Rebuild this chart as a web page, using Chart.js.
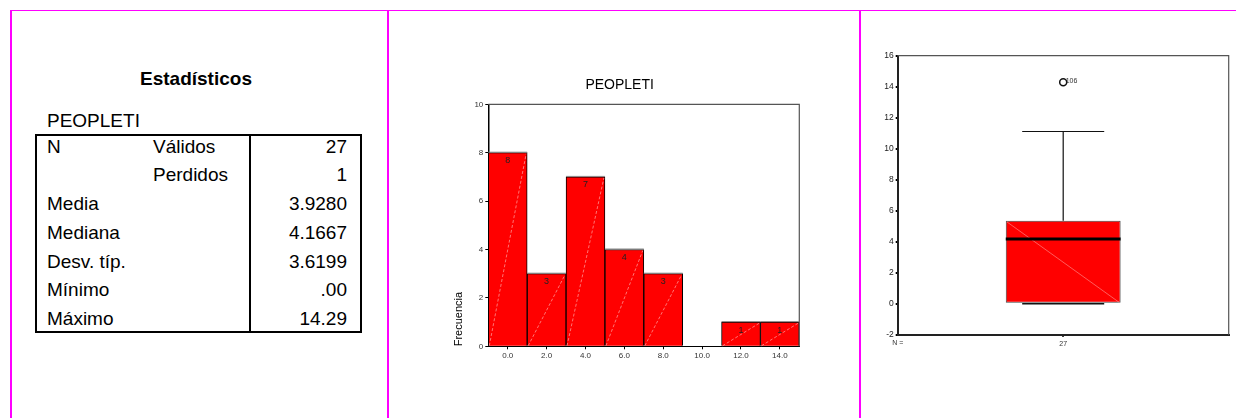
<!DOCTYPE html>
<html>
<head>
<meta charset="utf-8">
<script src="https://cdn.jsdelivr.net/npm/chart.js@4.4.1/dist/chart.umd.min.js"></script>
<style>
  body { margin: 0; background: #fff; width: 1236px; height: 418px; position: relative; overflow: hidden;
         font-family: "Liberation Sans", Arial, sans-serif; color: #000; }
  .mg { position: absolute; background: #ff00ff; }
  .t { position: absolute; font-size: 19px; line-height: 22px; white-space: nowrap; }
  .r { text-align: right; }
  #box { position: absolute; left: 35px; top: 134px; width: 323px; height: 195px; border: 2px solid #000; }
  #sep { position: absolute; left: 249px; top: 134px; width: 2px; height: 199px; background: #000; }
  canvas { position: absolute; }
</style>
</head>
<body>
<div class="mg" style="left:10px;top:10px;width:1226px;height:1px"></div>
<div class="mg" style="left:10px;top:10px;width:2px;height:408px"></div>
<div class="mg" style="left:387px;top:10px;width:2px;height:408px"></div>
<div class="mg" style="left:859px;top:10px;width:2px;height:408px"></div>

<div class="t" style="left:96px;width:200px;top:68px;text-align:center;font-weight:bold">Estadísticos</div>
<div class="t" style="left:47px;top:110px">PEOPLETI</div>
<div id="box"></div>
<div id="sep"></div>
<div id="rows"></div>

<canvas id="hist" width="370" height="320" style="left:440px;top:60px"></canvas>
<canvas id="boxplot" width="366" height="340" style="left:870px;top:45px"></canvas>

<script>
// stats table
const statLabels = ["N", "", "Media", "Mediana", "Desv. típ.", "Mínimo", "Máximo"];
const statSub = ["Válidos", "Perdidos", "", "", "", "", ""];
const statValues = ["27", "1", "3.9280", "4.1667", "3.6199", ".00", "14.29"];
const rowY = [147, 175, 204, 232.5, 261.5, 289.5, 318.5];

const rows = document.getElementById("rows");
statLabels.forEach((lab, i) => {
  const top = rowY[i] - 11;
  rows.innerHTML +=
    '<div class="t" style="left:47px;top:' + top + 'px">' + lab + '</div>' +
    '<div class="t" style="left:153px;top:' + top + 'px">' + statSub[i] + '</div>' +
    '<div class="t r" style="left:247px;width:100px;top:' + top + 'px">' + statValues[i] + '</div>';
});

// histogram data
const binLabels = ["0.0", "2.0", "4.0", "6.0", "8.0", "10.0", "12.0", "14.0"];
const frequencies = [8, 3, 7, 4, 3, 0, 1, 1];
const freqTicks = [0, 2, 4, 6, 8, 10];

// boxplot data
const groupLabels = ["27"];
const boxQ1 = 0;
const boxMedian = 4.1667;
const boxQ3 = 5.35;
const whiskerLow = 0;
const whiskerHigh = 11.11;
const outliers = [14.29];
const outlierIds = ["106"];

const font = "Liberation Sans";

const frame = {
  id: "frame",
  afterDatasetsDraw(chart) {
    const { ctx, chartArea: a } = chart;
    ctx.save();
    ctx.strokeStyle = "#555";
    ctx.lineWidth = 1.2;
    ctx.beginPath();
    ctx.moveTo(a.left, a.top);
    ctx.lineTo(a.right, a.top);
    ctx.lineTo(a.right, a.bottom);
    ctx.stroke();
    ctx.restore();
  }
};

const barMarks = {
  id: "barMarks",
  afterDatasetsDraw(chart) {
    const ctx = chart.ctx;
    const meta = chart.getDatasetMeta(0);
    ctx.save();
    meta.data.forEach((el, i) => {
      if (!frequencies[i]) return;
      const l = el.x - el.width / 2, r = el.x + el.width / 2;
      // pattern diagonal
      ctx.strokeStyle = "rgba(255,185,185,0.9)";
      ctx.lineWidth = 0.7;
      ctx.setLineDash([3, 2]);
      ctx.beginPath();
      ctx.moveTo(l + 1, el.base);
      ctx.lineTo(r - 1, el.y + 1);
      ctx.stroke();
      ctx.setLineDash([]);
      // grey top shadow
      ctx.strokeStyle = "#888";
      ctx.lineWidth = 1;
      ctx.beginPath();
      ctx.moveTo(l, el.y - 0.5);
      ctx.lineTo(r, el.y - 0.5);
      ctx.stroke();
      // count label
      ctx.fillStyle = "#222";
      ctx.font = "9px '" + font + "'";
      ctx.textAlign = "center";
      ctx.textBaseline = "middle";
      ctx.fillText(String(frequencies[i]), el.x, el.y + 8);
    });
    ctx.restore();
  }
};

new Chart(document.getElementById("hist"), {
  type: "bar",
  data: {
    labels: binLabels,
    datasets: [{
      data: frequencies,
      backgroundColor: "#ff0000",
      borderColor: "#000",
      borderWidth: 1,
      barPercentage: 1,
      categoryPercentage: 1
    }]
  },
  options: {
    responsive: false,
    animation: false,
    devicePixelRatio: 1,
    layout: { padding: { left: 0, right: 10.7, top: 0, bottom: 0 } },
    plugins: {
      legend: { display: false },
      tooltip: { enabled: false },
      title: {
        display: true,
        text: "PEOPLETI",
        color: "#000",
        font: { family: font, size: 14, weight: "normal" },
        padding: { top: 16.6, bottom: 10.9 }
      }
    },
    scales: {
      x: {
        afterFit: (s) => { s.height = 33.7; },
        grid: { display: true, offset: false, drawOnChartArea: false, tickLength: 3, color: "#000" },
        border: { color: "#000", width: 1 },
        ticks: { color: "#333", padding: 2, font: { family: font, size: 8 } }
      },
      y: {
        min: 0,
        max: 10,
        afterFit: (s) => { s.width = 48.3; },
        afterBuildTicks: (s) => { s.ticks = freqTicks.map((v) => ({ value: v })); },
        grid: { display: true, drawOnChartArea: false, tickLength: 3, color: "#000" },
        border: { color: "#000", width: 1.5 },
        ticks: { color: "#333", padding: 2, font: { family: font, size: 8 } },
        title: {
          display: true,
          text: "Frecuencia",
          align: "start",
          color: "#000",
          font: { family: font, size: 11 },
          padding: { top: 12.4, bottom: 0 }
        }
      }
    }
  },
  plugins: [frame, barMarks]
});

const boxMarks = {
  id: "boxMarks",
  afterDatasetsDraw(chart) {
    const { ctx, scales: { y } } = chart;
    const el = chart.getDatasetMeta(0).data[0];
    const cx = el.x, half = el.width / 2;
    const capHalf = el.width * 0.357;
    const yq1 = y.getPixelForValue(boxQ1), yq3 = y.getPixelForValue(boxQ3);
    ctx.save();
    // pattern diagonal in the box
    ctx.strokeStyle = "rgba(255,170,170,0.9)";
    ctx.lineWidth = 0.6;
    ctx.beginPath();
    ctx.moveTo(cx - half + 1, yq3 + 1);
    ctx.lineTo(cx + half - 1, yq1 - 1);
    ctx.stroke();
    // whisker
    ctx.strokeStyle = "#111";
    ctx.lineWidth = 1.2;
    ctx.beginPath();
    ctx.moveTo(cx, yq3);
    ctx.lineTo(cx, y.getPixelForValue(whiskerHigh));
    ctx.moveTo(cx - capHalf, y.getPixelForValue(whiskerHigh));
    ctx.lineTo(cx + capHalf, y.getPixelForValue(whiskerHigh));
    ctx.stroke();
    ctx.lineWidth = 1.5;
    ctx.beginPath();
    ctx.moveTo(cx - capHalf, y.getPixelForValue(whiskerLow));
    ctx.lineTo(cx + capHalf, y.getPixelForValue(whiskerLow));
    ctx.stroke();
    // median
    ctx.strokeStyle = "#000";
    ctx.lineWidth = 3;
    ctx.beginPath();
    ctx.moveTo(cx - half, y.getPixelForValue(boxMedian));
    ctx.lineTo(cx + half, y.getPixelForValue(boxMedian));
    ctx.stroke();
    // outlier ids
    ctx.fillStyle = "#333";
    ctx.font = "7px '" + font + "'";
    ctx.textAlign = "left";
    ctx.textBaseline = "middle";
    outliers.forEach((v, i) => {
      ctx.fillText(outlierIds[i], cx + 2.5, y.getPixelForValue(v) - 1);
    });
    // N = label
    ctx.textAlign = "center";
    ctx.fillText("N =", chart.chartArea.left, chart.chartArea.bottom + 8.5);
    ctx.restore();
  }
};

new Chart(document.getElementById("boxplot"), {
  type: "bar",
  data: {
    labels: groupLabels,
    datasets: [{
      data: [[boxQ1, boxQ3]],
      backgroundColor: "#ff0000",
      borderColor: "#444",
      borderWidth: 1,
      borderSkipped: false,
      barPercentage: 0.347,
      categoryPercentage: 1,
      order: 2
    }, {
      type: "line",
      data: outliers,
      showLine: false,
      pointRadius: 3.5,
      pointBackgroundColor: "rgba(0,0,0,0)",
      pointBorderColor: "#111",
      pointBorderWidth: 1.5,
      order: 1
    }]
  },
  options: {
    responsive: false,
    animation: false,
    devicePixelRatio: 1,
    layout: { padding: { left: 0, right: 7.3, top: 10.7, bottom: 0 } },
    plugins: { legend: { display: false }, tooltip: { enabled: false } },
    scales: {
      x: {
        afterFit: (s) => { s.height = 50.3; },
        grid: { display: true, offset: false, drawOnChartArea: false, tickLength: 2, color: "#000", lineWidth: 2 },
        border: { color: "#222", width: 2 },
        ticks: { color: "#333", padding: 3, font: { family: font, size: 7 } }
      },
      y: {
        min: -2,
        max: 16,
        afterFit: (s) => { s.width = 27.7; },
        ticks: { stepSize: 2, color: "#222", padding: 2, font: { family: font, size: 8.5 } },
        grid: { display: true, drawOnChartArea: false, tickLength: 2, color: "#000", lineWidth: 2 },
        border: { color: "#222", width: 2 }
      }
    }
  },
  plugins: [frame, boxMarks]
});
</script>
</body>
</html>
